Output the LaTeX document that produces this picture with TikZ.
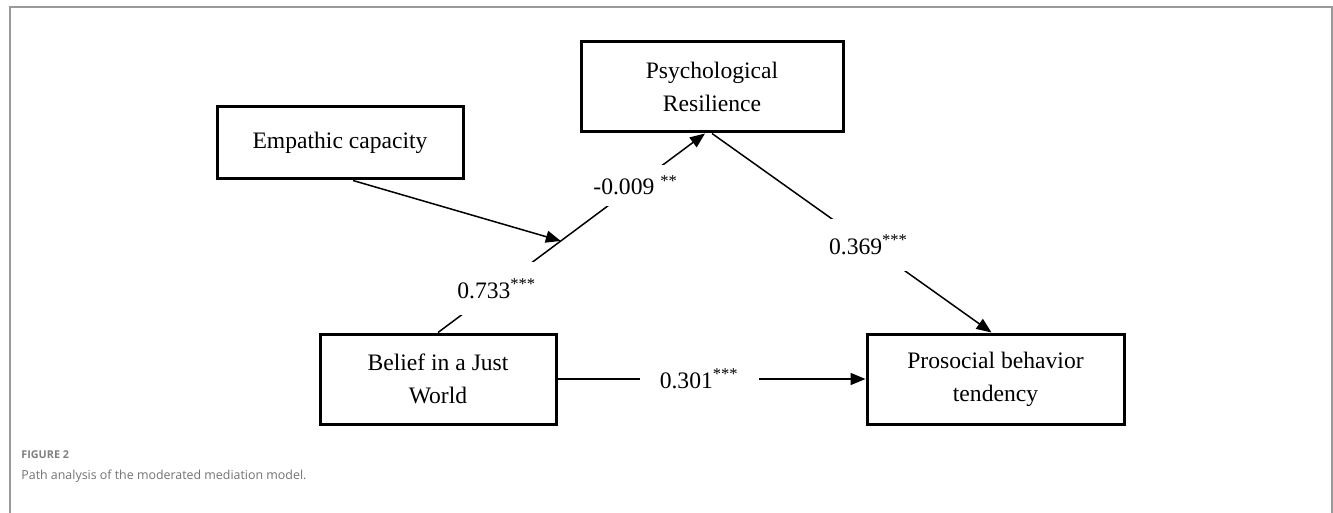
\documentclass[tikz,border=0pt]{standalone}
\usepackage{fontspec}
\setmainfont{Liberation Serif}
\newfontfamily\capfont{Open Sans}
\usetikzlibrary{positioning}
\usetikzlibrary{arrows.meta}

\begin{document}
\begin{tikzpicture}[x=0.5pt, y=-0.5pt, node distance=10pt,
    every node/.style={font=\fontsize{11.8}{16.5}\selectfont},
    var/.style={draw, line width=1.5pt, align=center, minimum height=45pt, inner sep=0pt},
    coef/.style={fill=white, inner xsep=10pt, inner ysep=8pt},
    link/.style={line width=0.75pt, -{Triangle[length=7.5pt, width=6pt]}}]
    \useasboundingbox (0,0) rectangle (1333,513);
    \draw[black!40, line width=1pt] (9.5,513) -- (9.5,7) -- (1332,7) -- (1332,513);
    % variables
    \node[var, minimum width=131pt] (psych) at (712,87) {Psychological\\Resilience};
    \node[var, minimum width=123pt, minimum height=36pt] (emp) at (340,143) {Empathic capacity};
    \node[var, minimum width=118pt] (belief) at (438,379) {Belief in a Just\\World};
    \node[var, minimum width=128.5pt, right=154pt of belief] (pro) {Prosocial behavior\\tendency};
    % paths
    \draw[link] (belief) -- (pro) node[coef, pos=0.46] {0.301\textsuperscript{***}};
    \draw[link] (belief.north) -- coordinate[pos=0.46] (mod) ([xshift=-3.5pt]psych.south)
        node[coef, pos=0.22, inner ysep=8.2pt] {0.733\textsuperscript{***}}
        node[coef, pos=0.74, inner ysep=5.2pt] {-0.009 \textsuperscript{**}};
    \draw[link] ([xshift=6.5pt]emp.south) -- (mod);
    \draw[link] (psych.south) -- ([xshift=-2pt]pro.north) node[coef, pos=0.56] {0.369\textsuperscript{***}};
    % caption
    \node[anchor=west, inner sep=0pt, text=black!50, font=\capfont\bfseries\fontsize{5.4}{7}\selectfont] (fig) at (21,455) {FIGURE 2};
    \node[anchor=west, inner sep=0pt, text=black!55, font=\capfont\fontsize{6.2}{8}\selectfont] (cap) at (21,476) {Path analysis of the moderated mediation model.};
\end{tikzpicture}
\end{document}
